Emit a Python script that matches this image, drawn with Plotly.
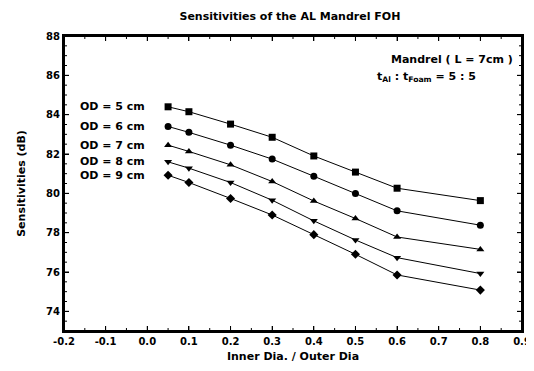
import plotly.graph_objects as go

ratio = [0.05, 0.1, 0.2, 0.3, 0.4, 0.5, 0.6, 0.8]
od5 = [84.40, 84.15, 83.52, 82.85, 81.90, 81.08, 80.26, 79.63]
od6 = [83.40, 83.10, 82.45, 81.74, 80.87, 79.99, 79.11, 78.38]
od7 = [82.45, 82.13, 81.45, 80.60, 79.61, 78.72, 77.78, 77.15]
od8 = [81.60, 81.28, 80.55, 79.65, 78.60, 77.63, 76.73, 75.92]
od9 = [80.92, 80.55, 79.74, 78.90, 77.90, 76.90, 75.85, 75.08]
series_names = ["OD = 5 cm", "OD = 6 cm", "OD = 7 cm", "OD = 8 cm", "OD = 9 cm"]
symbols = ["square", "circle", "triangle-up", "triangle-down", "diamond"]
x_tickvals = [-0.2, -0.1, 0.0, 0.1, 0.2, 0.3, 0.4, 0.5, 0.6, 0.7, 0.8, 0.9]
x_ticktext = ["-0.2", "-0.1", "0.0", "0.1", "0.2", "0.3", "0.4", "0.5", "0.6", "0.7", "0.8", "0.9"]
x_minorvals = [-0.15, -0.05, 0.05, 0.15, 0.25, 0.35, 0.45, 0.55, 0.65, 0.75, 0.85]
y_tickvals = [74, 76, 78, 80, 82, 84, 86, 88]
y_minorvals = [73.5, 74.5, 75, 75.5, 76.5, 77, 77.5, 78.5, 79, 79.5, 80.5, 81, 81.5,
               82.5, 83, 83.5, 84.5, 85, 85.5, 86.5, 87, 87.5]

FONT = "DejaVu Sans, Verdana, sans-serif"
BOLD = dict(family=FONT, size=11, color="black", weight="bold")
X_RANGE = [-0.2, 0.9]
Y_RANGE = [73, 88]

# the page body adds an 8px margin, so the figure is made 8px smaller
W, H = 526, 363
M = dict(l=56, r=12, t=28, b=40)
PW = W - M["l"] - M["r"]
PH = H - M["t"] - M["b"]

fig = go.Figure()
for name, ys, sym in zip(series_names, [od5, od6, od7, od8, od9], symbols):
    fig.add_trace(go.Scatter(
        x=ratio, y=ys, mode="lines+markers", name=name,
        line=dict(color="black", width=1),
        marker=dict(symbol=sym, size=7, color="black"),
        showlegend=False,
    ))
    fig.add_annotation(x=ratio[0], y=ys[0], text=name, xref="x", yref="y",
                       xanchor="right", yanchor="middle", xshift=-21, showarrow=False,
                       font=BOLD)

fig.add_annotation(x=0.985, y=86.8, xref="paper", yref="y", xanchor="right", yanchor="middle",
                   text="Mandrel ( L = 7cm )", showarrow=False, font=BOLD)
fig.add_annotation(x=0.905, y=85.9, xref="paper", yref="y", xanchor="right", yanchor="middle",
                   text="t<sub>Al</sub> : t<sub>Foam</sub> = 5 : 5", showarrow=False, font=BOLD)

# frame and tick marks (drawn as shapes, positions taken from the tick arrays)
tick_line = dict(color="black", width=1)
for vals, length in ((x_tickvals, 5), (x_minorvals, 3)):
    for v in vals:
        fig.add_shape(type="line", xref="x", yref="paper", x0=v, x1=v, y0=0, y1=length / PH, line=tick_line)
        fig.add_shape(type="line", xref="x", yref="paper", x0=v, x1=v, y0=1, y1=1 - length / PH, line=tick_line)
for vals, length in ((y_tickvals, 5), (y_minorvals, 3)):
    for v in vals:
        fig.add_shape(type="line", xref="paper", yref="y", y0=v, y1=v, x0=0, x1=length / PW, line=tick_line)
        fig.add_shape(type="line", xref="paper", yref="y", y0=v, y1=v, x0=1, x1=1 - length / PW, line=tick_line)
fig.add_shape(type="rect", xref="paper", yref="paper", x0=0, y0=0, x1=1, y1=1,
              line=dict(color="black", width=2), fillcolor="rgba(0,0,0,0)")

tickfont = dict(family=FONT, size=10, color="black", weight="bold")

fig.update_layout(
    width=W, height=H,
    margin=M,
    paper_bgcolor="white", plot_bgcolor="white",
    title=dict(text="Sensitivities of the AL Mandrel FOH", x=0.536, xanchor="center",
               y=0.978, yanchor="middle", font=dict(family=FONT, size=11, color="black", weight="bold")),
    xaxis=dict(
        range=X_RANGE, tickmode="array", tickvals=x_tickvals, ticktext=x_ticktext,
        showgrid=False, zeroline=False, showline=True, linecolor="black", linewidth=2,
        mirror="ticks", ticks="inside", ticklen=5, tickwidth=1, tickcolor="black",
        tickfont=tickfont, automargin=False,
        title=dict(text="Inner Dia. / Outer Dia", font=BOLD, standoff=6),
    ),
    yaxis=dict(
        range=Y_RANGE, tickmode="array", tickvals=y_tickvals,
        showgrid=False, zeroline=False, showline=True, linecolor="black", linewidth=2,
        mirror="ticks", ticks="inside", ticklen=5, tickwidth=1, tickcolor="black",
        tickfont=tickfont, automargin=False,
        title=dict(text="Sensitivities (dB)", font=BOLD, standoff=18),
    ),
)

fig.write_html("out.html")
